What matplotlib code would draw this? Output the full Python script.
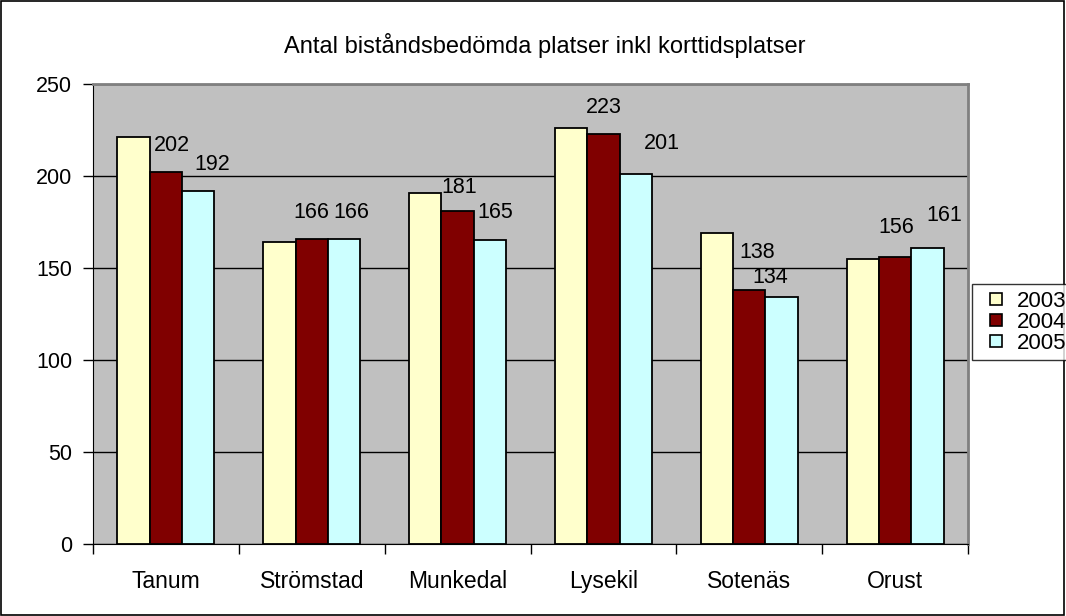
import matplotlib
matplotlib.use("Agg")
import matplotlib.pyplot as plt
import numpy as np
from matplotlib.patches import Rectangle
from matplotlib.lines import Line2D

plt.rcParams['font.family'] = ['Liberation Sans', 'DejaVu Sans']

categories = ["Tanum", "Strömstad", "Munkedal", "Lysekil", "Sotenäs", "Orust"]
years = ["2003", "2004", "2005"]
v2003 = [221, 164, 191, 226, 169, 155]
v2004 = [202, 166, 181, 223, 138, 156]
v2005 = [192, 166, 165, 201, 134, 161]
title = "Antal biståndsbedömda platser inkl korttidsplatser"

colors = ["#FFFFCC", "#800000", "#CCFFFF"]
# label offsets in points (dx, dy) per category for 2004 and 2005 labels (Excel placement)
off2004 = [(4, 19), (0, 19), (1, 17), (0, 19), (6, 27), (1, 21)]
off2005 = [(10, 19), (5, 19), (4, 20), (19, 22), (-8, 14), (12, 23)]

fig = plt.figure(figsize=(10.66, 6.16), dpi=100)
fig.patch.set_facecolor("white")
fig.add_artist(Rectangle((0.0005, 0.001), 0.998, 0.997, transform=fig.transFigure,
                         fill=False, edgecolor="black", linewidth=1.2))

ax = fig.add_axes([93/1066, 1-544/616, (968-93)/1066, (544-84)/616])
ax.set_facecolor("#C0C0C0")

x = np.arange(len(categories))
w = 0.222
series = [v2003, v2004, v2005]
bars = []
for i, (vals, c) in enumerate(zip(series, colors)):
    b = ax.bar(x + (i - 1) * w, vals, w, color=c, edgecolor="black", linewidth=1.3,
               label=years[i], zorder=3)
    bars.append(b)

for rect, v, (dx, dy) in zip(bars[1], v2004, off2004):
    ax.annotate(str(v), (rect.get_x() + rect.get_width()/2, rect.get_height()),
                xytext=(dx, dy), textcoords="offset points", ha="center", va="center",
                fontsize=15.5, zorder=5)
for rect, v, (dx, dy) in zip(bars[2], v2005, off2005):
    ax.annotate(str(v), (rect.get_x() + rect.get_width()/2, rect.get_height()),
                xytext=(dx, dy), textcoords="offset points", ha="center", va="center",
                fontsize=15.5, zorder=5)

ax.set_xlim(-0.5, len(categories) - 0.5)
ax.set_ylim(0, 250)
ax.set_yticks([0, 50, 100, 150, 200, 250])
ax.yaxis.grid(True, color="black", linewidth=1.0, zorder=1)
ax.set_axisbelow(True)
ax.tick_params(axis="y", direction="out", length=7, width=1, labelsize=15.5, pad=8)

ax.set_xticks(np.arange(-0.5, len(categories), 1.0))
ax.set_xticklabels([])
ax.set_xticks(x, minor=True)
ax.set_xticklabels(categories, minor=True, fontsize=16.5)
ax.tick_params(axis="x", which="major", direction="out", length=7, width=1)
ax.tick_params(axis="x", which="minor", length=0, pad=19)

for s in ["top", "right"]:
    ax.spines[s].set_color("#808080")
    ax.spines[s].set_linewidth(2)
ax.spines["left"].set_color("black")
ax.spines["bottom"].set_color("black")

fig.text(545/1066, 1-45/616, title, ha="center", va="center", fontsize=17)

handles = [Line2D([], [], marker="s", markersize=9, markerfacecolor=c,
                  markeredgecolor="black", markeredgewidth=1.2, linestyle="None")
           for c in colors]
leg = fig.legend(handles, years, loc="upper left", bbox_to_anchor=(972/1066, 1-284/616),
                 fontsize=16, frameon=True, fancybox=False, edgecolor="black",
                 handlelength=1.6, handletextpad=0.1,
                 borderpad=0.3, labelspacing=0.0, borderaxespad=0)
leg.get_frame().set_linewidth(1)

fig.savefig("out.png", dpi=100)
